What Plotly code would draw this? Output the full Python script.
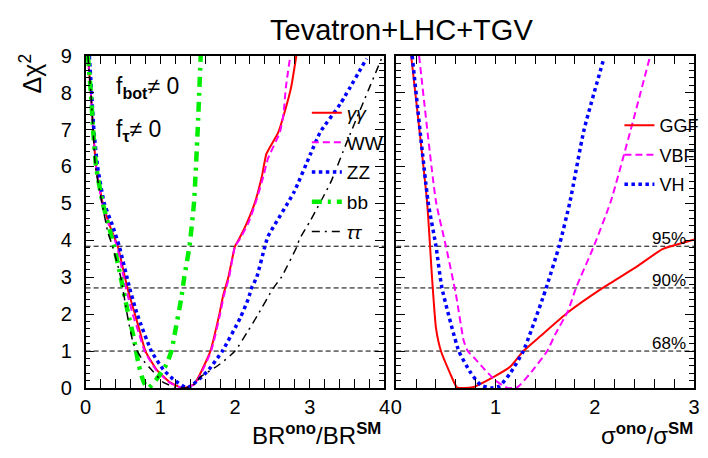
import plotly.graph_objects as go

# ---------------- data ----------------
# Left panel: delta chi^2 vs BR^ano/BR^SM
gg_x = [0.03, 0.07, 0.10, 0.14, 0.23, 0.33, 0.43, 0.56, 0.66, 0.73, 0.80, 0.95, 1.13, 1.30, 1.45, 1.52, 1.67, 1.79, 1.84, 1.91, 2.00, 2.05, 2.16, 2.27, 2.36, 2.42, 2.58, 2.66, 2.75, 2.82]
gg_y = [9.0, 8.0, 7.0, 6.0, 5.0, 4.36, 3.84, 2.70, 2.00, 1.50, 1.00, 0.50, 0.15, 0.00, 0.10, 0.33, 1.00, 2.00, 2.50, 3.00, 3.84, 4.02, 4.48, 5.05, 5.74, 6.34, 6.93, 7.45, 8.14, 9.0]

ww_x = [0.03, 0.07, 0.10, 0.14, 0.22, 0.32, 0.42, 0.54, 0.63, 0.71, 0.79, 0.94, 1.12, 1.30, 1.46, 1.53, 1.68, 1.80, 1.85, 1.92, 2.00, 2.06, 2.18, 2.28, 2.38, 2.44, 2.60, 2.65, 2.68, 2.74]
ww_y = [9.0, 8.0, 7.0, 6.0, 5.0, 4.36, 3.84, 2.70, 2.00, 1.50, 1.00, 0.50, 0.15, 0.00, 0.10, 0.33, 1.00, 2.00, 2.50, 3.00, 3.84, 4.02, 4.48, 5.05, 5.74, 6.21, 6.93, 7.45, 8.14, 9.0]

zz_x = [0.05, 0.08, 0.11, 0.16, 0.25, 0.36, 0.45, 0.59, 0.69, 0.88, 1.04, 1.17, 1.36, 1.52, 1.65, 1.83, 2.07, 2.18, 2.22, 2.29, 2.40, 2.44, 2.79, 3.01, 3.14, 3.41, 3.76]
zz_y = [9.0, 8.0, 7.0, 6.0, 5.0, 4.40, 3.84, 2.70, 2.00, 1.00, 0.50, 0.24, 0.00, 0.24, 0.50, 1.00, 1.90, 2.43, 2.70, 3.00, 3.84, 4.10, 5.31, 6.34, 6.93, 7.70, 8.92]

bb_x = [0.03, 0.07, 0.10, 0.14, 0.23, 0.38, 0.47, 0.56, 0.64, 0.71, 0.78, 0.84, 0.95, 1.08, 1.15, 1.19, 1.28, 1.32, 1.39, 1.45, 1.50, 1.54]
bb_y = [9.0, 8.0, 7.0, 6.0, 5.0, 3.84, 3.00, 2.10, 1.40, 0.63, 0.15, 0.00, 0.24, 0.63, 1.01, 1.44, 2.43, 3.00, 3.84, 5.00, 7.00, 9.0]

tt_x = [0.03, 0.07, 0.10, 0.13, 0.22, 0.30, 0.36, 0.47, 0.56, 0.64, 0.75, 0.90, 1.04, 1.20, 1.35, 1.45, 1.54, 1.80, 2.00, 2.16, 2.31, 2.51, 2.62, 2.83, 2.86, 3.01, 3.28, 3.50, 3.96]
tt_y = [9.0, 8.0, 7.0, 6.0, 5.0, 4.20, 3.84, 3.00, 1.95, 1.20, 0.80, 0.45, 0.15, 0.02, 0.00, 0.10, 0.30, 0.65, 1.00, 1.50, 2.00, 2.70, 3.00, 3.84, 4.02, 4.54, 5.57, 6.68, 8.92]

# Right panel: delta chi^2 vs sigma^ano/sigma^SM
ggf_x = [0.15, 0.31, 0.36, 0.40, 0.45, 0.54, 0.61, 0.69, 0.77, 1.00, 1.15, 1.28, 1.45, 1.73, 2.08, 2.43, 2.68, 2.90, 3.00]
ggf_y = [9.0, 5.05, 3.00, 1.62, 1.00, 0.41, 0.02, 0.00, 0.02, 0.33, 0.58, 1.00, 1.40, 2.05, 2.71, 3.30, 3.76, 3.94, 4.02]

vbf_x = [0.23, 0.40, 0.50, 0.60, 0.68, 0.72, 0.79, 0.89, 1.00, 1.12, 1.22, 1.38, 1.52, 1.60, 1.73, 1.81, 1.99, 2.16, 2.36, 2.55]
vbf_y = [9.0, 5.05, 3.84, 2.55, 1.27, 1.00, 0.80, 0.50, 0.20, 0.00, 0.02, 0.50, 1.00, 1.45, 2.09, 2.71, 3.84, 5.05, 6.98, 8.92]

vh_x = [0.16, 0.32, 0.40, 0.46, 0.63, 0.75, 0.85, 0.95, 1.04, 1.15, 1.28, 1.48, 1.51, 1.64, 1.75, 1.89, 2.09]
vh_y = [9.0, 5.05, 3.84, 2.71, 1.00, 0.41, 0.08, 0.00, 0.05, 0.41, 1.00, 2.47, 2.71, 3.84, 5.05, 6.98, 8.92]

cl_levels = [1.0, 2.71, 3.84]
cl_labels = ["68%", "90%", "95%"]

left_names = ["<i>γγ</i>", "WW", "ZZ", "bb", "<i>ττ</i>"]
right_names = ["GGF", "VBF", "VH"]

FONT = "Liberation Sans, Arial, sans-serif"
W, H = 708, 458

fig = go.Figure()

# confidence-level lines
for lv in cl_levels:
    fig.add_trace(go.Scatter(x=[0, 4], y=[lv, lv], mode="lines", xaxis="x", yaxis="y",
                             line=dict(color="black", width=1, dash="5px,3px"), showlegend=False, hoverinfo="skip"))
    fig.add_trace(go.Scatter(x=[0, 3], y=[lv, lv], mode="lines", xaxis="x2", yaxis="y2",
                             line=dict(color="black", width=1, dash="5px,3px"), showlegend=False, hoverinfo="skip"))

left_series = [
    (gg_x, gg_y, dict(color="#ff0000", width=2, dash="solid")),
    (ww_x, ww_y, dict(color="#ff00ff", width=2, dash="7px,4px")),
    (zz_x, zz_y, dict(color="#0000ff", width=3.5, dash="dot")),
    (bb_x, bb_y, dict(color="#00ee00", width=4.5, dash="10px,6px,3px,6px")),
    (tt_x, tt_y, dict(color="black", width=1.5, dash="8px,5px,2px,5px")),
]
for i, (xs, ys, ln) in enumerate(left_series):
    fig.add_trace(go.Scatter(x=xs, y=ys, mode="lines", xaxis="x", yaxis="y",
                             line=dict(shape="spline", smoothing=0.5, **ln),
                             name=left_names[i], legend="legend", legendgroup=f"l{i}"))

right_series = [
    (ggf_x, ggf_y, dict(color="#ff0000", width=2, dash="solid")),
    (vbf_x, vbf_y, dict(color="#ff00ff", width=2, dash="7px,4px")),
    (vh_x, vh_y, dict(color="#0000ff", width=3.5, dash="dot")),
]
for i, (xs, ys, ln) in enumerate(right_series):
    fig.add_trace(go.Scatter(x=xs, y=ys, mode="lines", xaxis="x2", yaxis="y2",
                             line=dict(shape="spline", smoothing=0.5, **ln),
                             name=right_names[i], legend="legend2", legendgroup=f"r{i}"))

ydom = [62 / H, 411 / H]
common = dict(showline=True, linecolor="black", linewidth=1.5, mirror="allticks",
              ticks="inside", ticklen=9, tickwidth=1, tickcolor="black",
              showgrid=False, zeroline=False,
              tickfont=dict(family=FONT, size=20, color="black"))
minor = dict(ticks="inside", ticklen=5, dtick=0.2, tick0=0, tickcolor="black", tickwidth=1, showgrid=False)
# extra right-side tick axes (minor ticks on the right frame edge)
right_ticks = dict(range=[0, 9], side="right", showline=False, showgrid=False, zeroline=False,
                   ticks="inside", ticklen=9, tickwidth=1, tickcolor="black", dtick=1, tick0=0,
                   showticklabels=False, minor=minor)

fig.update_layout(
    width=W, height=H, margin=dict(l=0, r=0, t=0, b=0),
    paper_bgcolor="white", plot_bgcolor="white",
    font=dict(family=FONT, color="black"),
    xaxis=dict(domain=[81 / W, 385 / W], range=[0, 4], anchor="y", dtick=1, tick0=0,
               minor=minor, **common),
    yaxis=dict(domain=ydom, range=[0, 9], anchor="x", dtick=1, tick0=0, ticklabelstandoff=8,
               minor=minor, **common),
    xaxis2=dict(domain=[397 / W, 700 / W], range=[0, 3], anchor="y2", dtick=1, tick0=0,
                minor=minor, **common),
    yaxis2=dict(domain=ydom, range=[0, 9], anchor="x2", dtick=1, tick0=0, showticklabels=False,
                minor=minor, **common),
    yaxis3=dict(overlaying="y", anchor="x", **right_ticks),
    yaxis4=dict(overlaying="y2", anchor="x2", **right_ticks),
    legend=dict(x=306 / W, y=1 - 87 / H, xanchor="left", yanchor="top", bgcolor="rgba(0,0,0,0)",
                font=dict(family=FONT, size=19), tracegroupgap=2, itemwidth=30),
    legend2=dict(x=624 / W, y=1 - 101 / H, xanchor="left", yanchor="top", bgcolor="rgba(0,0,0,0)",
                 font=dict(family=FONT, size=18), tracegroupgap=3, itemwidth=30),
    showlegend=True,
)

# invisible traces to activate the right-side tick axes
fig.add_trace(go.Scatter(x=[0], y=[0], xaxis="x", yaxis="y3", mode="markers", marker=dict(opacity=0),
                         showlegend=False, hoverinfo="skip"))
fig.add_trace(go.Scatter(x=[0], y=[0], xaxis="x2", yaxis="y4", mode="markers", marker=dict(opacity=0),
                         showlegend=False, hoverinfo="skip"))

ann = []
ann.append(dict(text="Tevatron+LHC+TGV", x=402 / W, y=1 - 20 / H, xref="paper", yref="paper",
                xanchor="center", yanchor="middle", showarrow=False, font=dict(size=29)))
ann.append(dict(text="Δχ<sup>2</sup>", x=25 / W, y=1 - 66 / H, xref="paper", yref="paper",
                textangle=-90, xanchor="center", yanchor="middle", showarrow=False, font=dict(size=25)))
ann.append(dict(text="BR<sup><b>ono</b></sup>/BR<sup><b>SM</b></sup>", x=384 / W, y=1 - 462 / H,
                xref="paper", yref="paper", xanchor="right", yanchor="bottom", showarrow=False,
                font=dict(size=24)))
ann.append(dict(text="σ<sup><b>ono</b></sup>/σ<sup><b>SM</b></sup>", x=701 / W, y=1 - 462 / H,
                xref="paper", yref="paper", xanchor="right", yanchor="bottom", showarrow=False,
                font=dict(size=24)))
ann.append(dict(text="f<sub><b>bot</b></sub>≠ 0", x=110 / W, y=1 - 80 / H, xref="paper", yref="paper",
                xanchor="left", yanchor="middle", showarrow=False, font=dict(size=23)))
ann.append(dict(text="f<sub><b>τ</b></sub>≠ 0", x=110 / W, y=1 - 126 / H, xref="paper", yref="paper",
                xanchor="left", yanchor="middle", showarrow=False, font=dict(size=23)))
for lv, lab in zip(cl_levels, cl_labels):
    ann.append(dict(text=lab, x=2.75, y=lv + 0.2, xref="x2", yref="y2", xanchor="center",
                    yanchor="middle", showarrow=False, font=dict(size=17)))
fig.update_layout(annotations=ann)

fig.write_html("out.html")
